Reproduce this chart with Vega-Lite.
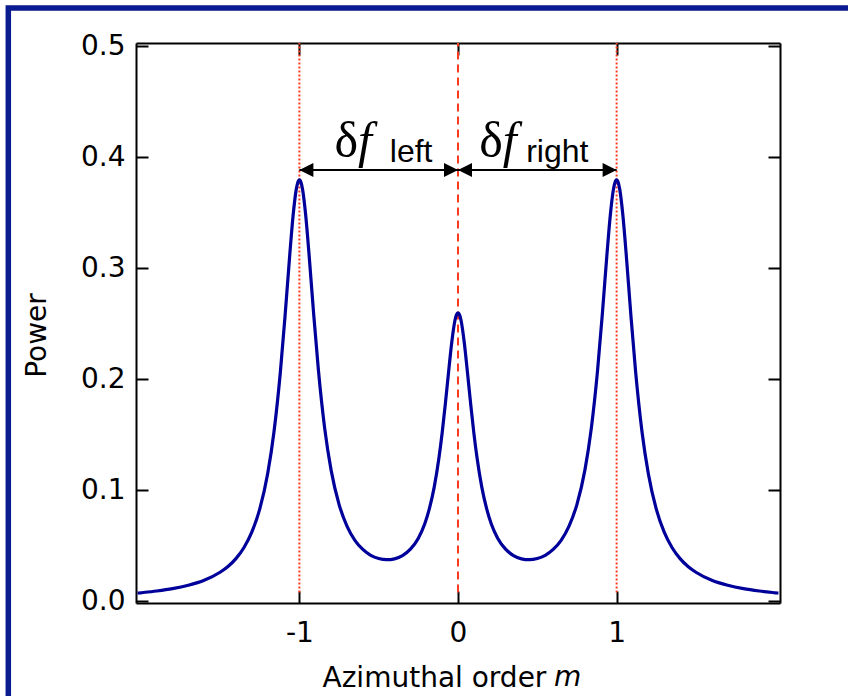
{
  "$schema": "https://vega.github.io/schema/vega-lite/v6.json",
  "width": 644,
  "height": 560,
  "autosize": {"type": "none"},
  "padding": {"left": 136, "top": 43, "right": 68, "bottom": 93},
  "background": "white",
  "config": {
    "view": {"stroke": null},
    "axis": {
      "grid": false,
      "domainColor": "black",
      "domainWidth": 2,
      "tickColor": "black",
      "tickWidth": 2,
      "tickSize": -12,
      "labelFont": "DejaVu Sans",
      "labelFontSize": 28,
      "labelColor": "black",
      "titleFont": "DejaVu Sans",
      "titleFontSize": 28,
      "titleFontWeight": "normal",
      "titleColor": "black"
    }
  },
  "resolve": {"axis": {"x": "independent", "y": "independent"}},
  "layer": [
    {
      "data": {"values": [{"m0": -2.835, "m1": 2.52, "p0": 0.5345, "p1": -0.0943}]},
      "mark": {"type": "rect", "fill": null, "stroke": "#0a1a8f", "strokeWidth": 5.5, "clip": false},
      "encoding": {
        "x": {"field": "m0", "type": "quantitative", "axis": null, "scale": {"domain": [-2.03, 2.03], "nice": false, "zero": false}},
        "x2": {"field": "m1"},
        "y": {"field": "p0", "type": "quantitative", "axis": null, "scale": {"domain": [-0.0015, 0.503], "nice": false, "zero": false}},
        "y2": {"field": "p1"}
      }
    },
    {
      "data": {"values": [{"m": -1, "lo": 0.008, "hi": 0.503}, {"m": 1, "lo": 0.008, "hi": 0.503}]},
      "mark": {"type": "rule", "color": "#ff3b1f", "strokeWidth": 2, "strokeDash": [2, 2]},
      "encoding": {
        "x": {"field": "m", "type": "quantitative", "axis": {"orient": "top", "values": [-1, 0, 1], "labels": false, "title": null}},
        "y": {"field": "lo", "type": "quantitative", "axis": {"orient": "right", "values": [0, 0.1, 0.2, 0.3, 0.4, 0.5], "labels": false, "title": null}},
        "y2": {"field": "hi"}
      }
    },
    {
      "data": {"values": [{"m": 0, "lo": 0.008, "hi": 0.503}]},
      "mark": {"type": "rule", "color": "#ff3b1f", "strokeWidth": 2, "strokeDash": [8, 5]},
      "encoding": {
        "x": {"field": "m", "type": "quantitative", "axis": null},
        "y": {"field": "lo", "type": "quantitative", "axis": null},
        "y2": {"field": "hi"}
      }
    },
    {
      "data": {"values": [
        {"m": -2.02, "power": 0.0074}, {"m": -2.0, "power": 0.0077}, {"m": -1.9, "power": 0.0093}, {"m": -1.8, "power": 0.0114},
        {"m": -1.7, "power": 0.0145}, {"m": -1.6, "power": 0.019}, {"m": -1.5, "power": 0.0262}, {"m": -1.45, "power": 0.0314},
        {"m": -1.4, "power": 0.0385}, {"m": -1.35, "power": 0.0483}, {"m": -1.3, "power": 0.0623}, {"m": -1.25, "power": 0.0831},
        {"m": -1.2, "power": 0.1149}, {"m": -1.16, "power": 0.1528}, {"m": -1.12, "power": 0.2064}, {"m": -1.09, "power": 0.2576},
        {"m": -1.06, "power": 0.3134}, {"m": -1.04, "power": 0.347}, {"m": -1.02, "power": 0.3709}, {"m": -1.01, "power": 0.3774},
        {"m": -1.0, "power": 0.3797}, {"m": -0.99, "power": 0.3776}, {"m": -0.98, "power": 0.3712}, {"m": -0.96, "power": 0.3476},
        {"m": -0.94, "power": 0.3143}, {"m": -0.91, "power": 0.259}, {"m": -0.88, "power": 0.2083}, {"m": -0.84, "power": 0.1554},
        {"m": -0.8, "power": 0.1182}, {"m": -0.75, "power": 0.0874}, {"m": -0.7, "power": 0.0678}, {"m": -0.65, "power": 0.055},
        {"m": -0.6, "power": 0.0468}, {"m": -0.55, "power": 0.0415}, {"m": -0.5, "power": 0.0386}, {"m": -0.45, "power": 0.0375},
        {"m": -0.4, "power": 0.0383}, {"m": -0.35, "power": 0.0412}, {"m": -0.3, "power": 0.047}, {"m": -0.25, "power": 0.0569},
        {"m": -0.21, "power": 0.0697}, {"m": -0.18, "power": 0.0837}, {"m": -0.15, "power": 0.1029}, {"m": -0.12, "power": 0.1293},
        {"m": -0.1, "power": 0.1516}, {"m": -0.08, "power": 0.1776}, {"m": -0.06, "power": 0.2057}, {"m": -0.04, "power": 0.2325},
        {"m": -0.02, "power": 0.2525}, {"m": -0.01, "power": 0.2581}, {"m": 0.0, "power": 0.26}, {"m": 0.01, "power": 0.2581},
        {"m": 0.02, "power": 0.2525}, {"m": 0.04, "power": 0.2325}, {"m": 0.06, "power": 0.2057}, {"m": 0.08, "power": 0.1776},
        {"m": 0.1, "power": 0.1516}, {"m": 0.12, "power": 0.1293}, {"m": 0.15, "power": 0.1029}, {"m": 0.18, "power": 0.0837},
        {"m": 0.21, "power": 0.0697}, {"m": 0.25, "power": 0.0569}, {"m": 0.3, "power": 0.047}, {"m": 0.35, "power": 0.0412},
        {"m": 0.4, "power": 0.0383}, {"m": 0.45, "power": 0.0375}, {"m": 0.5, "power": 0.0386}, {"m": 0.55, "power": 0.0415},
        {"m": 0.6, "power": 0.0468}, {"m": 0.65, "power": 0.055}, {"m": 0.7, "power": 0.0678}, {"m": 0.75, "power": 0.0874},
        {"m": 0.8, "power": 0.1182}, {"m": 0.84, "power": 0.1554}, {"m": 0.88, "power": 0.2083}, {"m": 0.91, "power": 0.259},
        {"m": 0.94, "power": 0.3143}, {"m": 0.96, "power": 0.3476}, {"m": 0.98, "power": 0.3712}, {"m": 0.99, "power": 0.3776},
        {"m": 1.0, "power": 0.3797}, {"m": 1.01, "power": 0.3774}, {"m": 1.02, "power": 0.3709}, {"m": 1.04, "power": 0.347},
        {"m": 1.06, "power": 0.3134}, {"m": 1.09, "power": 0.2576}, {"m": 1.12, "power": 0.2064}, {"m": 1.16, "power": 0.1528},
        {"m": 1.2, "power": 0.1149}, {"m": 1.25, "power": 0.0831}, {"m": 1.3, "power": 0.0623}, {"m": 1.35, "power": 0.0483},
        {"m": 1.4, "power": 0.0385}, {"m": 1.45, "power": 0.0314}, {"m": 1.5, "power": 0.0262}, {"m": 1.6, "power": 0.019},
        {"m": 1.7, "power": 0.0145}, {"m": 1.8, "power": 0.0114}, {"m": 1.9, "power": 0.0093}, {"m": 2.0, "power": 0.0077},
        {"m": 2.02, "power": 0.0074}
      ]},
      "mark": {"type": "line", "color": "#00009a", "strokeWidth": 3.2, "interpolate": "monotone"},
      "encoding": {
        "x": {"field": "m", "type": "quantitative", "axis": {"orient": "bottom", "values": [-1, 0, 1], "labelExpr": "datum.value + ''", "labelPadding": 28, "title": "Azimuthal order", "titleAlign": "left", "titleBaseline": "alphabetic", "titleX": 186, "titleY": 83}},
        "y": {"field": "power", "type": "quantitative", "axis": {"orient": "left", "values": [0, 0.1, 0.2, 0.3, 0.4, 0.5], "format": ".1f", "labelPadding": 23, "title": "Power", "titleAngle": -90, "titleAlign": "center", "titleBaseline": "alphabetic", "titleX": -91, "titleY": 292}}
      }
    },
    {
      "data": {"values": [{"a": -1, "b": 0, "power": 0.3885}, {"a": 0, "b": 1, "power": 0.3885}]},
      "mark": {"type": "rule", "color": "black", "strokeWidth": 2},
      "encoding": {
        "x": {"field": "a", "type": "quantitative", "axis": null},
        "x2": {"field": "b"},
        "y": {"field": "power", "type": "quantitative", "axis": null}
      }
    },
    {
      "data": {"values": [{"m": -1, "power": 0.3885}, {"m": 0, "power": 0.3885}]},
      "mark": {"type": "point", "shape": "M0,0L2,-1L2,1Z", "size": 196, "filled": true, "color": "black", "opacity": 1, "strokeWidth": 0},
      "encoding": {
        "x": {"field": "m", "type": "quantitative", "axis": null},
        "y": {"field": "power", "type": "quantitative", "axis": null}
      }
    },
    {
      "data": {"values": [{"m": 0, "power": 0.3885}, {"m": 1, "power": 0.3885}]},
      "mark": {"type": "point", "shape": "M0,0L-2,-1L-2,1Z", "size": 196, "filled": true, "color": "black", "opacity": 1, "strokeWidth": 0},
      "encoding": {
        "x": {"field": "m", "type": "quantitative", "axis": null},
        "y": {"field": "power", "type": "quantitative", "axis": null}
      }
    },
    {
      "data": {"values": [{"m": -0.778, "power": 0.4003, "label": "δ"}, {"m": 0.1335, "power": 0.4003, "label": "δ"}]},
      "mark": {"type": "text", "font": "Liberation Serif", "fontSize": 50, "align": "left", "baseline": "alphabetic", "color": "black"},
      "encoding": {
        "x": {"field": "m", "type": "quantitative", "axis": null},
        "y": {"field": "power", "type": "quantitative", "axis": null},
        "text": {"field": "label"}
      }
    },
    {
      "data": {"values": [{"m": -0.63, "power": 0.4003, "label": "f"}, {"m": 0.282, "power": 0.4003, "label": "f"}]},
      "mark": {"type": "text", "font": "Liberation Serif", "fontSize": 50, "fontStyle": "italic", "align": "left", "baseline": "alphabetic", "color": "black"},
      "encoding": {
        "x": {"field": "m", "type": "quantitative", "axis": null},
        "y": {"field": "power", "type": "quantitative", "axis": null},
        "text": {"field": "label"}
      }
    },
    {
      "data": {"values": [{"m": -0.43, "power": 0.3958, "label": "left"}, {"m": 0.43, "power": 0.3958, "label": "right"}]},
      "mark": {"type": "text", "font": "Liberation Sans", "fontSize": 32, "align": "left", "baseline": "alphabetic", "color": "black"},
      "encoding": {
        "x": {"field": "m", "type": "quantitative", "axis": null},
        "y": {"field": "power", "type": "quantitative", "axis": null},
        "text": {"field": "label"}
      }
    },
    {
      "data": {"values": [{"m": 0.605, "power": -0.0763, "label": "m"}]},
      "mark": {"type": "text", "font": "DejaVu Sans", "fontSize": 28, "fontStyle": "italic", "align": "left", "baseline": "alphabetic", "color": "black", "clip": false},
      "encoding": {
        "x": {"field": "m", "type": "quantitative", "axis": null},
        "y": {"field": "power", "type": "quantitative", "axis": null},
        "text": {"field": "label"}
      }
    }
  ]
}
